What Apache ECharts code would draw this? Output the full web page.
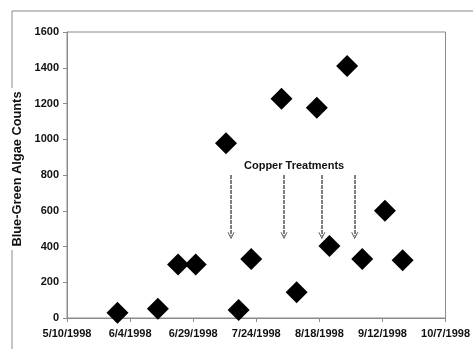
<!DOCTYPE html>
<html>
<head>
<meta charset="utf-8">
<script src="https://cdn.jsdelivr.net/npm/echarts@6/dist/echarts.min.js"></script>
<style>
  html, body { margin: 0; padding: 0; background: #fff; }
  #algae { width: 473px; height: 349px; }
</style>
</head>
<body>
<div id="algae"></div>
<script>
// sample dates and blue-green algae counts
const sampleDates = ['5/30/1998', '6/15/1998', '6/23/1998', '6/30/1998', '7/12/1998',
  '7/17/1998', '7/22/1998', '8/3/1998', '8/9/1998', '8/17/1998', '8/22/1998',
  '8/29/1998', '9/4/1998', '9/13/1998', '9/20/1998']
const counts = [30, 52, 300, 300, 977, 45, 330, 1227, 144, 1176, 403, 1410, 330, 600, 323]

// copper treatment arrows
const treatDates = ['7/14/1998', '8/4/1998', '8/19/1998', '9/1/1998']
const arrowFrom = 800
const arrowTo = 460
const noteText = 'Copper Treatments'
const noteDate = '8/8/1998'
const noteValue = 850

// axis range (excel date serials)
const xStart = '5/10/1998'
const xEnd = '10/7/1998'
const yTicks = [0, 200, 400, 600, 800, 1000, 1200, 1400, 1600]

const BASE = Date.UTC(1899, 11, 30)
function serial(s) {
  const p = s.split('/')
  return (Date.UTC(+p[2], +p[0] - 1, +p[1]) - BASE) / 864e5
}
function dateLabel(v) {
  const d = new Date(BASE + v * 864e5)
  return (d.getUTCMonth() + 1) + '/' + d.getUTCDate() + '/' + d.getUTCFullYear()
}

const points = sampleDates.map((d, i) => [serial(d), counts[i]])
const arrows = treatDates.map(d => [{coord: [serial(d), arrowFrom]}, {coord: [serial(d), arrowTo]}])

const chart = echarts.init(document.getElementById('algae'))
const gray = '#8a8a8a'
const font = 'Liberation Sans, Arial, sans-serif'

chart.setOption({
  animation: false,
  grid: {
    left: 67, top: 32, right: 19, bottom: 31,
    show: true, borderColor: gray, borderWidth: 1
  },
  xAxis: {
    type: 'value',
    min: serial(xStart),
    max: serial(xEnd),
    interval: 25,
    splitLine: {show: false},
    axisLine: {lineStyle: {color: gray}},
    axisTick: {show: true, length: 4, lineStyle: {color: gray}},
    axisLabel: {
      color: '#111', fontWeight: 'bold', fontSize: 11, fontFamily: font,
      margin: 10, formatter: dateLabel, showMaxLabel: true
    }
  },
  yAxis: {
    type: 'value',
    min: yTicks[0],
    max: yTicks[yTicks.length - 1],
    interval: 200,
    name: 'Blue-Green Algae Counts',
    nameLocation: 'middle',
    nameGap: 37,
    nameTextStyle: {
      color: '#111', fontWeight: 'bold', fontSize: 12.8, fontFamily: font,
      padding: [0, 0, 0, 12]
    },
    splitLine: {show: false},
    axisLine: {show: true, lineStyle: {color: gray}},
    axisTick: {show: true, length: 4, lineStyle: {color: gray}},
    axisLabel: {
      color: '#111', fontWeight: 'bold', fontSize: 11, fontFamily: font, margin: 8,
      formatter: v => String(v)
    }
  },
  graphic: [
    {type: 'line', shape: {x1: 12, y1: 11, x2: 473, y2: 11}, style: {stroke: gray, lineWidth: 1}},
    {type: 'line', shape: {x1: 12, y1: 11, x2: 12, y2: 88}, style: {stroke: gray, lineWidth: 1}},
    {type: 'line', shape: {x1: 12, y1: 250, x2: 12, y2: 349}, style: {stroke: gray, lineWidth: 1}}
  ],
  series: [
    {
      type: 'scatter',
      symbol: 'diamond',
      symbolSize: 22,
      itemStyle: {color: '#000', opacity: 1},
      data: points,
      z: 3,
      markPoint: {
        silent: true,
        symbol: 'circle',
        symbolSize: 0,
        label: {
          show: true, formatter: noteText, position: 'inside',
          color: '#111', fontWeight: 'bold', fontSize: 11, fontFamily: font
        },
        data: [{coord: [serial(noteDate), noteValue]}]
      }
    },
    {
      type: 'line',
      data: [],
      markLine: {
        silent: true,
        symbol: ['none', 'path://M0,10L5,0L10,10L8.6,10L5,2.8L1.4,10Z'],
        symbolSize: [7, 7],
        label: {show: false},
        lineStyle: {color: '#555', width: 1.5, type: [4, 1]},
        data: arrows
      }
    }
  ]
})
</script>
</body>
</html>
